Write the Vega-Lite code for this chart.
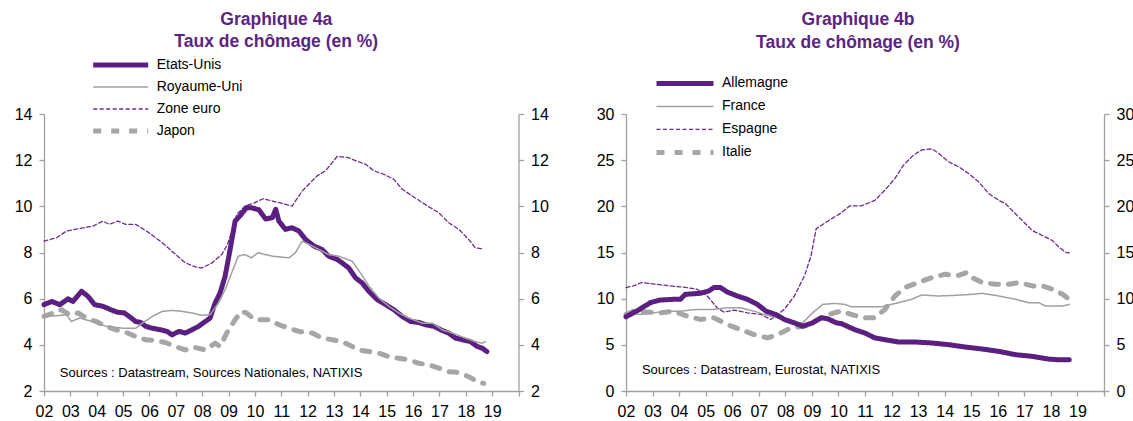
{
"$schema": "https://vega.github.io/schema/vega-lite/v6.json",
"padding": {"left": 14, "top": 10, "right": 0, "bottom": 0},
"spacing": 47,
"config": {
  "font": "Liberation Sans",
  "view": {"stroke": null},
  "axis": {"domainColor": "#A0A0A0", "tickColor": "#A0A0A0", "domainWidth": 1.3, "tickWidth": 1.3, "labelColor": "#000000", "labelFontSize": 16, "labelFont": "Liberation Sans", "grid": false, "tickSize": 5, "labelPadding": 7},
  "title": {"fontSize": 17.5, "fontWeight": "bold", "color": "#5C2483", "lineHeight": 22.7, "font": "Liberation Sans"},
  "legend": {"labelFont": "Liberation Sans", "labelColor": "#000000"}
},
"datasets": {
  "a": [
    {"s":"Japon","t":2002.0,"v":5.23},{"s":"Japon","t":2002.35,"v":5.38},{"s":"Japon","t":2002.66,"v":5.52},{"s":"Japon","t":2002.98,"v":5.3},{"s":"Japon","t":2003.29,"v":5.38},{"s":"Japon","t":2003.6,"v":5.16},{"s":"Japon","t":2003.98,"v":5.01},{"s":"Japon","t":2004.36,"v":4.8},{"s":"Japon","t":2004.73,"v":4.65},{"s":"Japon","t":2005.11,"v":4.54},{"s":"Japon","t":2005.48,"v":4.36},{"s":"Japon","t":2005.86,"v":4.22},{"s":"Japon","t":2006.24,"v":4.19},{"s":"Japon","t":2006.61,"v":4.1},{"s":"Japon","t":2006.99,"v":3.93},{"s":"Japon","t":2007.36,"v":3.78},{"s":"Japon","t":2007.68,"v":3.9},{"s":"Japon","t":2008.12,"v":3.78},{"s":"Japon","t":2008.49,"v":4.07},{"s":"Japon","t":2008.68,"v":3.93},{"s":"Japon","t":2008.93,"v":4.51},{"s":"Japon","t":2009.25,"v":5.09},{"s":"Japon","t":2009.49,"v":5.45},{"s":"Japon","t":2009.68,"v":5.38},{"s":"Japon","t":2010.0,"v":5.09},{"s":"Japon","t":2010.54,"v":5.09},{"s":"Japon","t":2010.91,"v":4.87},{"s":"Japon","t":2011.29,"v":4.72},{"s":"Japon","t":2011.67,"v":4.58},{"s":"Japon","t":2012.18,"v":4.51},{"s":"Japon","t":2012.55,"v":4.29},{"s":"Japon","t":2012.93,"v":4.22},{"s":"Japon","t":2013.31,"v":4.14},{"s":"Japon","t":2013.56,"v":4.0},{"s":"Japon","t":2013.94,"v":3.78},{"s":"Japon","t":2014.33,"v":3.71},{"s":"Japon","t":2014.7,"v":3.64},{"s":"Japon","t":2015.08,"v":3.49},{"s":"Japon","t":2015.46,"v":3.42},{"s":"Japon","t":2015.84,"v":3.35},{"s":"Japon","t":2016.22,"v":3.2},{"s":"Japon","t":2016.6,"v":3.13},{"s":"Japon","t":2016.98,"v":2.99},{"s":"Japon","t":2017.35,"v":2.84},{"s":"Japon","t":2017.74,"v":2.8},{"s":"Japon","t":2018.11,"v":2.62},{"s":"Japon","t":2018.43,"v":2.41},{"s":"Japon","t":2018.68,"v":2.33},
    {"s":"Zone euro","t":2002.0,"v":8.49},{"s":"Zone euro","t":2002.48,"v":8.64},{"s":"Zone euro","t":2002.85,"v":8.93},{"s":"Zone euro","t":2003.48,"v":9.07},{"s":"Zone euro","t":2003.85,"v":9.14},{"s":"Zone euro","t":2004.23,"v":9.36},{"s":"Zone euro","t":2004.48,"v":9.22},{"s":"Zone euro","t":2004.8,"v":9.36},{"s":"Zone euro","t":2005.1,"v":9.22},{"s":"Zone euro","t":2005.48,"v":9.22},{"s":"Zone euro","t":2005.98,"v":8.86},{"s":"Zone euro","t":2006.49,"v":8.42},{"s":"Zone euro","t":2006.92,"v":7.99},{"s":"Zone euro","t":2007.36,"v":7.55},{"s":"Zone euro","t":2007.74,"v":7.38},{"s":"Zone euro","t":2007.99,"v":7.33},{"s":"Zone euro","t":2008.37,"v":7.55},{"s":"Zone euro","t":2008.74,"v":7.91},{"s":"Zone euro","t":2008.93,"v":8.28},{"s":"Zone euro","t":2009.12,"v":8.86},{"s":"Zone euro","t":2009.31,"v":9.65},{"s":"Zone euro","t":2009.62,"v":10.01},{"s":"Zone euro","t":2010.0,"v":10.16},{"s":"Zone euro","t":2010.31,"v":10.33},{"s":"Zone euro","t":2010.66,"v":10.23},{"s":"Zone euro","t":2011.04,"v":10.13},{"s":"Zone euro","t":2011.41,"v":10.01},{"s":"Zone euro","t":2011.8,"v":10.67},{"s":"Zone euro","t":2012.36,"v":11.32},{"s":"Zone euro","t":2012.68,"v":11.54},{"s":"Zone euro","t":2013.12,"v":12.16},{"s":"Zone euro","t":2013.5,"v":12.12},{"s":"Zone euro","t":2013.94,"v":11.93},{"s":"Zone euro","t":2014.19,"v":11.83},{"s":"Zone euro","t":2014.51,"v":11.54},{"s":"Zone euro","t":2014.89,"v":11.39},{"s":"Zone euro","t":2015.27,"v":11.17},{"s":"Zone euro","t":2015.59,"v":10.74},{"s":"Zone euro","t":2015.97,"v":10.45},{"s":"Zone euro","t":2016.35,"v":10.16},{"s":"Zone euro","t":2016.66,"v":9.94},{"s":"Zone euro","t":2016.98,"v":9.72},{"s":"Zone euro","t":2017.35,"v":9.29},{"s":"Zone euro","t":2017.74,"v":9.0},{"s":"Zone euro","t":2018.11,"v":8.57},{"s":"Zone euro","t":2018.36,"v":8.2},{"s":"Zone euro","t":2018.62,"v":8.16},
    {"s":"Etats-Unis","t":2002.0,"v":5.74},{"s":"Etats-Unis","t":2002.29,"v":5.88},{"s":"Etats-Unis","t":2002.6,"v":5.74},{"s":"Etats-Unis","t":2002.91,"v":5.99},{"s":"Etats-Unis","t":2003.1,"v":5.88},{"s":"Etats-Unis","t":2003.42,"v":6.32},{"s":"Etats-Unis","t":2003.67,"v":6.1},{"s":"Etats-Unis","t":2003.92,"v":5.74},{"s":"Etats-Unis","t":2004.23,"v":5.67},{"s":"Etats-Unis","t":2004.54,"v":5.52},{"s":"Etats-Unis","t":2004.79,"v":5.41},{"s":"Etats-Unis","t":2005.05,"v":5.38},{"s":"Etats-Unis","t":2005.23,"v":5.23},{"s":"Etats-Unis","t":2005.48,"v":5.01},{"s":"Etats-Unis","t":2005.67,"v":4.97},{"s":"Etats-Unis","t":2005.86,"v":4.8},{"s":"Etats-Unis","t":2006.11,"v":4.72},{"s":"Etats-Unis","t":2006.42,"v":4.65},{"s":"Etats-Unis","t":2006.67,"v":4.58},{"s":"Etats-Unis","t":2006.86,"v":4.43},{"s":"Etats-Unis","t":2007.11,"v":4.58},{"s":"Etats-Unis","t":2007.36,"v":4.51},{"s":"Etats-Unis","t":2007.61,"v":4.65},{"s":"Etats-Unis","t":2007.86,"v":4.8},{"s":"Etats-Unis","t":2008.12,"v":5.01},{"s":"Etats-Unis","t":2008.3,"v":5.16},{"s":"Etats-Unis","t":2008.49,"v":5.81},{"s":"Etats-Unis","t":2008.68,"v":6.25},{"s":"Etats-Unis","t":2008.87,"v":6.97},{"s":"Etats-Unis","t":2009.06,"v":8.13},{"s":"Etats-Unis","t":2009.25,"v":9.36},{"s":"Etats-Unis","t":2009.43,"v":9.58},{"s":"Etats-Unis","t":2009.68,"v":9.94},{"s":"Etats-Unis","t":2009.87,"v":9.94},{"s":"Etats-Unis","t":2010.15,"v":9.85},{"s":"Etats-Unis","t":2010.41,"v":9.45},{"s":"Etats-Unis","t":2010.66,"v":9.51},{"s":"Etats-Unis","t":2010.79,"v":9.87},{"s":"Etats-Unis","t":2010.91,"v":9.36},{"s":"Etats-Unis","t":2011.16,"v":9.0},{"s":"Etats-Unis","t":2011.41,"v":9.07},{"s":"Etats-Unis","t":2011.67,"v":8.93},{"s":"Etats-Unis","t":2011.92,"v":8.57},{"s":"Etats-Unis","t":2012.24,"v":8.28},{"s":"Etats-Unis","t":2012.55,"v":8.13},{"s":"Etats-Unis","t":2012.8,"v":7.84},{"s":"Etats-Unis","t":2013.12,"v":7.7},{"s":"Etats-Unis","t":2013.31,"v":7.55},{"s":"Etats-Unis","t":2013.56,"v":7.33},{"s":"Etats-Unis","t":2013.82,"v":6.9},{"s":"Etats-Unis","t":2014.07,"v":6.68},{"s":"Etats-Unis","t":2014.32,"v":6.32},{"s":"Etats-Unis","t":2014.64,"v":5.96},{"s":"Etats-Unis","t":2014.96,"v":5.74},{"s":"Etats-Unis","t":2015.27,"v":5.52},{"s":"Etats-Unis","t":2015.59,"v":5.23},{"s":"Etats-Unis","t":2015.91,"v":5.01},{"s":"Etats-Unis","t":2016.22,"v":4.97},{"s":"Etats-Unis","t":2016.47,"v":4.87},{"s":"Etats-Unis","t":2016.8,"v":4.8},{"s":"Etats-Unis","t":2017.05,"v":4.65},{"s":"Etats-Unis","t":2017.35,"v":4.51},{"s":"Etats-Unis","t":2017.61,"v":4.29},{"s":"Etats-Unis","t":2017.87,"v":4.22},{"s":"Etats-Unis","t":2018.18,"v":4.14},{"s":"Etats-Unis","t":2018.43,"v":3.93},{"s":"Etats-Unis","t":2018.62,"v":3.86},{"s":"Etats-Unis","t":2018.8,"v":3.71},
    {"s":"Royaume-Uni","t":2002.0,"v":5.23},{"s":"Royaume-Uni","t":2002.48,"v":5.26},{"s":"Royaume-Uni","t":2002.85,"v":5.3},{"s":"Royaume-Uni","t":2003.04,"v":5.01},{"s":"Royaume-Uni","t":2003.35,"v":5.16},{"s":"Royaume-Uni","t":2003.85,"v":5.01},{"s":"Royaume-Uni","t":2004.36,"v":4.8},{"s":"Royaume-Uni","t":2004.98,"v":4.72},{"s":"Royaume-Uni","t":2005.48,"v":4.72},{"s":"Royaume-Uni","t":2005.73,"v":4.94},{"s":"Royaume-Uni","t":2006.11,"v":5.23},{"s":"Royaume-Uni","t":2006.49,"v":5.45},{"s":"Royaume-Uni","t":2006.86,"v":5.49},{"s":"Royaume-Uni","t":2007.24,"v":5.45},{"s":"Royaume-Uni","t":2007.61,"v":5.38},{"s":"Royaume-Uni","t":2007.99,"v":5.28},{"s":"Royaume-Uni","t":2008.3,"v":5.3},{"s":"Royaume-Uni","t":2008.62,"v":5.81},{"s":"Royaume-Uni","t":2008.87,"v":6.39},{"s":"Royaume-Uni","t":2009.12,"v":7.12},{"s":"Royaume-Uni","t":2009.37,"v":7.84},{"s":"Royaume-Uni","t":2009.62,"v":7.91},{"s":"Royaume-Uni","t":2009.87,"v":7.77},{"s":"Royaume-Uni","t":2010.12,"v":7.99},{"s":"Royaume-Uni","t":2010.66,"v":7.84},{"s":"Royaume-Uni","t":2011.29,"v":7.77},{"s":"Royaume-Uni","t":2011.54,"v":7.99},{"s":"Royaume-Uni","t":2011.79,"v":8.49},{"s":"Royaume-Uni","t":2012.05,"v":8.35},{"s":"Royaume-Uni","t":2012.43,"v":8.13},{"s":"Royaume-Uni","t":2012.8,"v":7.91},{"s":"Royaume-Uni","t":2013.18,"v":7.84},{"s":"Royaume-Uni","t":2013.69,"v":7.62},{"s":"Royaume-Uni","t":2014.0,"v":7.12},{"s":"Royaume-Uni","t":2014.33,"v":6.54},{"s":"Royaume-Uni","t":2014.7,"v":6.03},{"s":"Royaume-Uni","t":2015.08,"v":5.67},{"s":"Royaume-Uni","t":2015.46,"v":5.38},{"s":"Royaume-Uni","t":2015.84,"v":5.16},{"s":"Royaume-Uni","t":2016.35,"v":4.94},{"s":"Royaume-Uni","t":2016.73,"v":4.94},{"s":"Royaume-Uni","t":2017.11,"v":4.65},{"s":"Royaume-Uni","t":2017.49,"v":4.51},{"s":"Royaume-Uni","t":2017.99,"v":4.29},{"s":"Royaume-Uni","t":2018.36,"v":4.14},{"s":"Royaume-Uni","t":2018.62,"v":4.07},{"s":"Royaume-Uni","t":2018.74,"v":4.14}
  ],
  "b": [
    {"s":"Italie","t":2002.0,"v":8.29},{"s":"Italie","t":2002.28,"v":8.65},{"s":"Italie","t":2002.78,"v":8.55},{"s":"Italie","t":2003.29,"v":8.47},{"s":"Italie","t":2003.79,"v":8.65},{"s":"Italie","t":2004.3,"v":8.11},{"s":"Italie","t":2004.8,"v":7.75},{"s":"Italie","t":2005.31,"v":7.93},{"s":"Italie","t":2005.81,"v":7.2},{"s":"Italie","t":2006.32,"v":6.65},{"s":"Italie","t":2006.82,"v":6.11},{"s":"Italie","t":2007.33,"v":5.75},{"s":"Italie","t":2007.71,"v":6.11},{"s":"Italie","t":2008.21,"v":6.84},{"s":"Italie","t":2008.72,"v":7.02},{"s":"Italie","t":2009.1,"v":7.56},{"s":"Italie","t":2009.47,"v":8.11},{"s":"Italie","t":2009.85,"v":8.47},{"s":"Italie","t":2010.11,"v":8.65},{"s":"Italie","t":2010.48,"v":8.29},{"s":"Italie","t":2010.99,"v":7.93},{"s":"Italie","t":2011.37,"v":7.93},{"s":"Italie","t":2011.75,"v":8.84},{"s":"Italie","t":2012.13,"v":10.29},{"s":"Italie","t":2012.5,"v":11.2},{"s":"Italie","t":2013.01,"v":11.75},{"s":"Italie","t":2013.52,"v":12.29},{"s":"Italie","t":2014.02,"v":12.65},{"s":"Italie","t":2014.46,"v":12.47},{"s":"Italie","t":2014.84,"v":12.84},{"s":"Italie","t":2015.03,"v":12.29},{"s":"Italie","t":2015.41,"v":11.75},{"s":"Italie","t":2015.91,"v":11.56},{"s":"Italie","t":2016.42,"v":11.56},{"s":"Italie","t":2016.8,"v":11.75},{"s":"Italie","t":2017.3,"v":11.38},{"s":"Italie","t":2017.68,"v":11.38},{"s":"Italie","t":2018.06,"v":11.02},{"s":"Italie","t":2018.44,"v":10.47},{"s":"Italie","t":2018.69,"v":9.93},
    {"s":"Espagne","t":2002.0,"v":11.2},{"s":"Espagne","t":2002.28,"v":11.38},{"s":"Espagne","t":2002.59,"v":11.75},{"s":"Espagne","t":2003.16,"v":11.56},{"s":"Espagne","t":2003.67,"v":11.38},{"s":"Espagne","t":2004.3,"v":11.2},{"s":"Espagne","t":2004.68,"v":11.02},{"s":"Espagne","t":2005.06,"v":10.29},{"s":"Espagne","t":2005.43,"v":9.02},{"s":"Espagne","t":2005.69,"v":8.55},{"s":"Espagne","t":2006.07,"v":8.76},{"s":"Espagne","t":2006.57,"v":8.47},{"s":"Espagne","t":2007.08,"v":8.29},{"s":"Espagne","t":2007.45,"v":7.75},{"s":"Espagne","t":2007.71,"v":8.29},{"s":"Espagne","t":2007.96,"v":8.84},{"s":"Espagne","t":2008.34,"v":10.29},{"s":"Espagne","t":2008.72,"v":12.47},{"s":"Espagne","t":2008.97,"v":14.65},{"s":"Espagne","t":2009.16,"v":17.56},{"s":"Espagne","t":2009.35,"v":17.93},{"s":"Espagne","t":2009.54,"v":18.29},{"s":"Espagne","t":2009.85,"v":18.84},{"s":"Espagne","t":2010.11,"v":19.3},{"s":"Espagne","t":2010.42,"v":20.04},{"s":"Espagne","t":2010.86,"v":20.04},{"s":"Espagne","t":2011.37,"v":20.65},{"s":"Espagne","t":2011.75,"v":21.75},{"s":"Espagne","t":2012.13,"v":23.02},{"s":"Espagne","t":2012.45,"v":24.47},{"s":"Espagne","t":2012.83,"v":25.56},{"s":"Espagne","t":2013.14,"v":26.11},{"s":"Espagne","t":2013.52,"v":26.22},{"s":"Espagne","t":2013.77,"v":25.75},{"s":"Espagne","t":2014.14,"v":24.84},{"s":"Espagne","t":2014.52,"v":24.29},{"s":"Espagne","t":2014.9,"v":23.56},{"s":"Espagne","t":2015.28,"v":22.65},{"s":"Espagne","t":2015.66,"v":21.38},{"s":"Espagne","t":2016.04,"v":20.65},{"s":"Espagne","t":2016.29,"v":20.29},{"s":"Espagne","t":2016.6,"v":19.38},{"s":"Espagne","t":2016.92,"v":18.47},{"s":"Espagne","t":2017.3,"v":17.38},{"s":"Espagne","t":2017.68,"v":16.84},{"s":"Espagne","t":2018.06,"v":16.29},{"s":"Espagne","t":2018.31,"v":15.56},{"s":"Espagne","t":2018.56,"v":15.02},{"s":"Espagne","t":2018.69,"v":14.95},
    {"s":"France","t":2002.0,"v":8.47},{"s":"France","t":2002.53,"v":8.29},{"s":"France","t":2003.04,"v":8.47},{"s":"France","t":2003.54,"v":8.65},{"s":"France","t":2004.05,"v":8.65},{"s":"France","t":2004.68,"v":8.84},{"s":"France","t":2005.31,"v":8.84},{"s":"France","t":2005.81,"v":9.02},{"s":"France","t":2006.32,"v":9.02},{"s":"France","t":2006.82,"v":8.65},{"s":"France","t":2007.2,"v":8.29},{"s":"France","t":2007.71,"v":7.93},{"s":"France","t":2008.21,"v":7.45},{"s":"France","t":2008.65,"v":7.38},{"s":"France","t":2009.03,"v":8.47},{"s":"France","t":2009.41,"v":9.38},{"s":"France","t":2009.85,"v":9.49},{"s":"France","t":2010.23,"v":9.38},{"s":"France","t":2010.48,"v":9.13},{"s":"France","t":2010.99,"v":9.13},{"s":"France","t":2011.62,"v":9.13},{"s":"France","t":2012.25,"v":9.56},{"s":"France","t":2012.76,"v":9.93},{"s":"France","t":2013.14,"v":10.4},{"s":"France","t":2013.77,"v":10.29},{"s":"France","t":2014.4,"v":10.36},{"s":"France","t":2015.03,"v":10.47},{"s":"France","t":2015.41,"v":10.58},{"s":"France","t":2016.04,"v":10.29},{"s":"France","t":2016.67,"v":9.93},{"s":"France","t":2017.18,"v":9.56},{"s":"France","t":2017.55,"v":9.56},{"s":"France","t":2017.8,"v":9.2},{"s":"France","t":2018.44,"v":9.2},{"s":"France","t":2018.69,"v":9.38},
    {"s":"Allemagne","t":2002.0,"v":8.04},{"s":"Allemagne","t":2002.4,"v":8.65},{"s":"Allemagne","t":2002.91,"v":9.56},{"s":"Allemagne","t":2003.29,"v":9.85},{"s":"Allemagne","t":2003.79,"v":9.93},{"s":"Allemagne","t":2004.05,"v":9.93},{"s":"Allemagne","t":2004.23,"v":10.47},{"s":"Allemagne","t":2004.8,"v":10.58},{"s":"Allemagne","t":2005.12,"v":10.84},{"s":"Allemagne","t":2005.31,"v":11.2},{"s":"Allemagne","t":2005.56,"v":11.2},{"s":"Allemagne","t":2005.81,"v":10.73},{"s":"Allemagne","t":2006.19,"v":10.29},{"s":"Allemagne","t":2006.57,"v":9.93},{"s":"Allemagne","t":2006.95,"v":9.38},{"s":"Allemagne","t":2007.27,"v":8.65},{"s":"Allemagne","t":2007.64,"v":8.29},{"s":"Allemagne","t":2007.96,"v":7.75},{"s":"Allemagne","t":2008.34,"v":7.38},{"s":"Allemagne","t":2008.65,"v":7.02},{"s":"Allemagne","t":2009.03,"v":7.38},{"s":"Allemagne","t":2009.35,"v":7.93},{"s":"Allemagne","t":2009.6,"v":7.82},{"s":"Allemagne","t":2009.92,"v":7.38},{"s":"Allemagne","t":2010.11,"v":7.3},{"s":"Allemagne","t":2010.61,"v":6.65},{"s":"Allemagne","t":2010.99,"v":6.29},{"s":"Allemagne","t":2011.37,"v":5.75},{"s":"Allemagne","t":2011.88,"v":5.49},{"s":"Allemagne","t":2012.25,"v":5.31},{"s":"Allemagne","t":2012.88,"v":5.31},{"s":"Allemagne","t":2013.51,"v":5.2},{"s":"Allemagne","t":2014.14,"v":5.02},{"s":"Allemagne","t":2014.78,"v":4.76},{"s":"Allemagne","t":2015.41,"v":4.55},{"s":"Allemagne","t":2016.04,"v":4.29},{"s":"Allemagne","t":2016.67,"v":3.93},{"s":"Allemagne","t":2017.3,"v":3.75},{"s":"Allemagne","t":2017.93,"v":3.45},{"s":"Allemagne","t":2018.31,"v":3.38},{"s":"Allemagne","t":2018.69,"v":3.38}
  ]
},
"hconcat": [
  {
    "width": 474.5, "height": 277,
    "title": {"text": ["Graphique 4a", "Taux de chômage (en %)"], "frame": "group", "anchor": "middle", "dx": -5, "offset": 3},
    "layer": [
      {
        "data": {"name": "a"},
        "mark": {"type": "line", "strokeCap": "round", "strokeJoin": "round"},
        "encoding": {
          "x": {"field": "t", "type": "quantitative", "scale": {"domain": [2002, 2020], "nice": false, "zero": false}, "axis": {"title": null, "values": [2002,2003,2004,2005,2006,2007,2008,2009,2010,2011,2012,2013,2014,2015,2016,2017,2018,2019,2020], "labelExpr": "datum.value >= 2020 ? '' : slice(toString(datum.value), 2)", "labelOverlap": false, "labelFlush": false}},
          "y": {"field": "v", "type": "quantitative", "scale": {"domain": [2, 14], "nice": false, "zero": false}, "axis": {"orient": "left", "title": null, "values": [2,4,6,8,10,12,14]}},
          "color": {"field": "s", "type": "nominal", "scale": {"domain": ["Etats-Unis", "Royaume-Uni", "Zone euro", "Japon"], "range": ["#5A1F80", "#A0A0A0", "#6B2C91", "#A6A6A6"]}, "legend": {"orient": "none", "legendX": 46.7, "legendY": -60, "title": null, "symbolType": "stroke", "symbolSize": 3025, "clipHeight": 22, "rowPadding": 0, "labelFontSize": 14, "labelOffset": 6, "padding": 0, "labelLimit": 300}},
          "strokeDash": {"field": "s", "type": "nominal", "scale": {"domain": ["Etats-Unis", "Royaume-Uni", "Zone euro", "Japon"], "range": [[1, 0], [1, 0], [4, 2.5], [8, 10]]}, "legend": {"orient": "none", "legendX": 46.7, "legendY": -60, "title": null, "symbolType": "stroke", "symbolSize": 3025, "clipHeight": 22, "rowPadding": 0, "labelFontSize": 14, "labelOffset": 6, "padding": 0, "labelLimit": 300}},
          "strokeWidth": {"field": "s", "type": "nominal", "scale": {"type": "ordinal", "domain": ["Etats-Unis", "Royaume-Uni", "Zone euro", "Japon"], "range": [5, 1.5, 1.3, 5]}, "legend": {"orient": "none", "legendX": 46.7, "legendY": -60, "title": null, "symbolType": "stroke", "symbolSize": 3025, "clipHeight": 22, "rowPadding": 0, "labelFontSize": 14, "labelOffset": 6, "padding": 0, "labelLimit": 300}}
        }
      },
      {
        "data": {"values": [{}]},
        "mark": {"type": "text", "align": "left", "baseline": "middle", "fontSize": 13, "font": "Liberation Sans", "color": "#000000"},
        "encoding": {
          "x": {"datum": 2002.6, "type": "quantitative", "axis": {"title": null, "values": [2002,2003,2004,2005,2006,2007,2008,2009,2010,2011,2012,2013,2014,2015,2016,2017,2018,2019,2020], "labelExpr": "datum.value >= 2020 ? '' : slice(toString(datum.value), 2)", "labelOverlap": false, "labelFlush": false}},
          "y": {"datum": 2.78, "type": "quantitative", "axis": {"orient": "right", "title": null, "values": [2,4,6,8,10,12,14]}},
          "text": {"value": "Sources : Datastream, Sources Nationales, NATIXIS"}
        }
      }
    ],
    "resolve": {"axis": {"y": "independent"}}
  },
  {
    "width": 478, "height": 277,
    "title": {"text": ["Graphique 4b", "Taux de chômage (en %)"], "frame": "group", "anchor": "middle", "dx": -7, "offset": 21},
    "layer": [
      {
        "data": {"name": "b"},
        "mark": {"type": "line", "strokeCap": "round", "strokeJoin": "round"},
        "encoding": {
          "x": {"field": "t", "type": "quantitative", "scale": {"domain": [2002, 2020], "nice": false, "zero": false}, "axis": {"title": null, "values": [2002,2003,2004,2005,2006,2007,2008,2009,2010,2011,2012,2013,2014,2015,2016,2017,2018,2019,2020], "labelExpr": "datum.value >= 2020 ? '' : slice(toString(datum.value), 2)", "labelOverlap": false, "labelFlush": false}},
          "y": {"field": "v", "type": "quantitative", "scale": {"domain": [0, 30], "nice": false, "zero": false}, "axis": {"orient": "left", "title": null, "values": [0,5,10,15,20,25,30]}},
          "color": {"field": "s", "type": "nominal", "scale": {"domain": ["Allemagne", "France", "Espagne", "Italie"], "range": ["#5A1F80", "#A0A0A0", "#6B2C91", "#A6A6A6"]}, "legend": {"orient": "none", "legendX": 28, "legendY": -41.7, "title": null, "symbolType": "stroke", "symbolSize": 3249, "clipHeight": 22.3, "rowPadding": 0, "labelFontSize": 14, "labelOffset": 6, "padding": 0, "labelLimit": 300}},
          "strokeDash": {"field": "s", "type": "nominal", "scale": {"domain": ["Allemagne", "France", "Espagne", "Italie"], "range": [[1, 0], [1, 0], [4, 2.5], [8, 10]]}, "legend": {"orient": "none", "legendX": 28, "legendY": -41.7, "title": null, "symbolType": "stroke", "symbolSize": 3249, "clipHeight": 22.3, "rowPadding": 0, "labelFontSize": 14, "labelOffset": 6, "padding": 0, "labelLimit": 300}},
          "strokeWidth": {"field": "s", "type": "nominal", "scale": {"type": "ordinal", "domain": ["Allemagne", "France", "Espagne", "Italie"], "range": [5, 1.5, 1.3, 5]}, "legend": {"orient": "none", "legendX": 28, "legendY": -41.7, "title": null, "symbolType": "stroke", "symbolSize": 3249, "clipHeight": 22.3, "rowPadding": 0, "labelFontSize": 14, "labelOffset": 6, "padding": 0, "labelLimit": 300}}
        }
      },
      {
        "data": {"values": [{}]},
        "mark": {"type": "text", "align": "left", "baseline": "middle", "fontSize": 13, "font": "Liberation Sans", "color": "#000000"},
        "encoding": {
          "x": {"datum": 2002.6, "type": "quantitative", "axis": {"title": null, "values": [2002,2003,2004,2005,2006,2007,2008,2009,2010,2011,2012,2013,2014,2015,2016,2017,2018,2019,2020], "labelExpr": "datum.value >= 2020 ? '' : slice(toString(datum.value), 2)", "labelOverlap": false, "labelFlush": false}},
          "y": {"datum": 2.3, "type": "quantitative", "axis": {"orient": "right", "title": null, "values": [0,5,10,15,20,25,30]}},
          "text": {"value": "Sources : Datastream, Eurostat, NATIXIS"}
        }
      }
    ],
    "resolve": {"axis": {"y": "independent"}}
  }
],
"resolve": {
  "scale": {"color": "independent", "strokeDash": "independent", "strokeWidth": "independent", "x": "independent", "y": "independent"},
  "legend": {"color": "independent", "strokeDash": "independent", "strokeWidth": "independent"}
}
}
